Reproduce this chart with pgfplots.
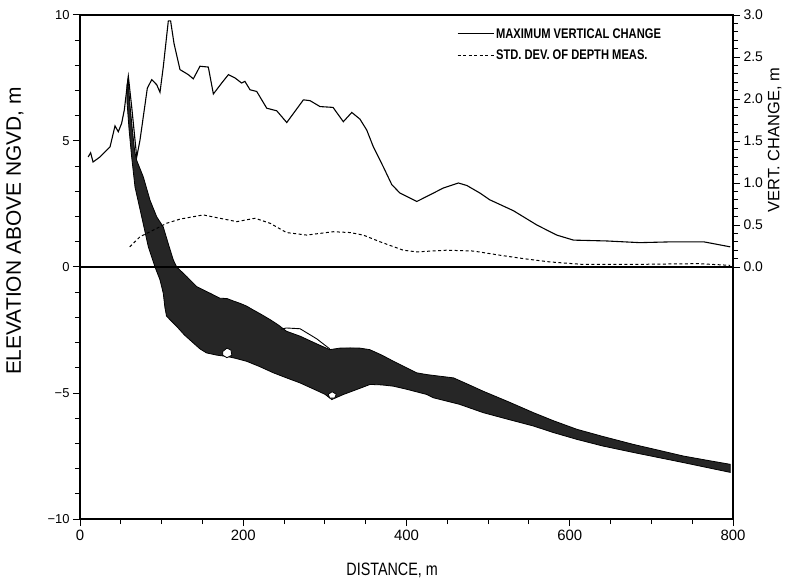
\documentclass[border=0pt]{standalone}
\usepackage{fontspec}
\setmainfont{Liberation Sans}
\newfontfamily\condfont{Liberation Sans}[FakeStretch=0.8]
\usepackage{pgfplots}
\pgfplotsset{compat=1.18}

\begin{document}
\begin{tikzpicture}
\useasboundingbox (-80bp,-66bp) rectangle (720bp,519bp);
\begin{axis}[
  scale only axis, width=653bp, height=504bp,
  xmin=0, xmax=800, ymin=-10, ymax=10,
  xtick={0,200,400,600,800}, minor x tick num=3,
  ytick={-10,-5,0,5,10}, yticklabels={−10,−5,0,5,10}, minor y tick num=4,
  xtick pos=left, ytick pos=left, tick align=outside,
  major tick length=7bp, minor tick length=5bp,
  axis line style={line width=1.2pt},
  every tick/.style={line width=1pt, black},
  every minor tick/.style={line width=0.9pt, black},
  /pgf/number format/assume math mode=true,
  xticklabel style={font=\fontsize{15}{17}\selectfont, yshift=-1bp},
  yticklabel style={font=\fontsize{13}{15}\selectfont},
  xlabel={DISTANCE, m},
  ylabel={ELEVATION ABOVE NGVD, m},
  xlabel style={at={(axis description cs:0.478,-0.101)}, anchor=center, font=\condfont\fontsize{18}{20}\selectfont},
  ylabel style={at={(axis description cs:-0.0995,0.571)}, anchor=center, rotate=0, font=\fontsize{21}{23}\selectfont},
  clip=false,
]
% envelope of surveyed profiles
\addplot[fill=black!85, draw=black, line width=0.8pt] coordinates {
(59,7.5) (61,6.5) (64,5.5) (67,4.6) (69.5,4.23) (77.6,3.57) (85.8,2.65) (94,1.99) (102,1.59) (108,0.94) (114.3,0.28) (118.5,0)
(130.8,-0.38) (143,-0.78) (159.3,-1.04) (171.6,-1.24) (180,-1.25) (188,-1.35) (196,-1.44) (204,-1.55) (212,-1.70) (222,-1.88) (233,-2.09) (243,-2.3) (253,-2.55) (270,-2.75) (290,-3.05) (306,-3.28) (318,-3.22) (331,-3.21) (343,-3.22) (355,-3.28) (370,-3.5) (384,-3.74) (392,-3.87) (412.6,-4.20) (425,-4.27) (440,-4.33) (457.6,-4.40) (475,-4.65) (494,-4.93) (525,-5.35) (555.5,-5.78) (580,-6.1) (608.7,-6.44) (640,-6.72) (678,-7.04) (710,-7.28) (739,-7.50) (770,-7.68) (796.6,-7.83)
(796.6,-8.15) (770,-7.97) (739,-7.76) (710,-7.57) (678,-7.36) (640,-7.1) (608.7,-6.84) (580,-6.57) (555.5,-6.31) (525,-6.05) (494,-5.78) (465,-5.45) (433,-5.19) (425,-5.06) (400,-4.85) (384,-4.73) (370,-4.68) (355.4,-4.66) (340,-4.85) (322.6,-5.06) (308.5,-5.26) (300,-5.05) (290,-4.9) (269.6,-4.60) (253,-4.40) (237,-4.20) (220,-3.95) (204,-3.74) (190,-3.62) (180,-3.55) (168,-3.5) (155,-3.41) (147,-3.25) (139,-3.02) (128,-2.7) (118.5,-2.36) (112,-2.15) (106,-1.95) (104,-1.6) (102,-1.04) (98,-0.51) (91.9,0)
(83.7,0.8) (75.6,1.99) (67.4,3.17) (63.3,4.36) (60,5.5) (57.5,6.6) (57.5,7.2)
} -- cycle;
% outlying profile loops
\addplot[draw=black, line width=0.9pt] coordinates {(246,-2.47) (253,-2.42) (269.6,-2.45) (290,-2.85) (306,-3.25)};
\addplot[draw=black, fill=white, line width=0.8pt] coordinates {(175,-3.35) (180,-3.22) (185,-3.3) (186,-3.5) (180,-3.6) (175,-3.5)} -- cycle;
\addplot[draw=black, fill=white, line width=0.8pt] coordinates {(304,-5.05) (309,-4.95) (314,-5.05) (312,-5.2) (306,-5.2)} -- cycle;
% zero line
\addplot[black, line width=1.2pt] coordinates {(0,0) (800,0)};
\end{axis}
\begin{axis}[
  scale only axis, width=653bp, height=504bp,
  xmin=0, xmax=800, ymin=-3, ymax=3,
  axis x line=none, axis y line*=right,
  ytick={0,0.5,1,1.5,2,2.5,3}, yticklabels={0.0,0.5,1.0,1.5,2.0,2.5,3.0},
  minor ytick={0.1,0.2,0.3,0.4,0.6,0.7,0.8,0.9,1.1,1.2,1.3,1.4,1.6,1.7,1.8,1.9,2.1,2.2,2.3,2.4,2.6,2.7,2.8,2.9},
  tick align=outside,
  major tick length=7bp, minor tick length=5bp,
  axis line style={line width=1.2pt},
  every tick/.style={line width=1pt, black},
  every minor tick/.style={line width=0.9pt, black},
  yticklabel style={font=\fontsize{14}{16}\selectfont},
  ylabel={VERT. CHANGE, m},
  ylabel style={at={(axis description cs:1.064,0.752)}, anchor=center, rotate=0, font=\fontsize{16.5}{18}\selectfont},
  legend style={at={(axis description cs:0.577,0.978)}, anchor=north west, draw=none, fill=none,
    font=\condfont\bfseries\fontsize{14}{16}\selectfont, row sep=6bp, inner sep=0pt,
    nodes={inner sep=2bp}},
  legend cell align=left,
  legend image code/.code={\draw[#1] (0bp,0bp) -- (36bp,0bp);},
  clip=false,
]
\addplot[black, line width=1.1pt] coordinates {
(10,1.31) (13,1.36) (16,1.25) (24.5,1.31) (36.8,1.43) (42.9,1.68) (46.9,1.61) (51,1.71) (54.3,1.87) (59.2,2.27) (63.3,1.91) (67.4,1.51) (69.5,1.31) (73.5,1.51) (82.5,2.13) (87.9,2.23) (94,2.17) (98,2.08) (102,2.38) (108.2,2.93) (111,2.93) (115.2,2.66) (122.5,2.35) (132.7,2.29) (138.8,2.24) (147,2.39) (157.2,2.38) (163.4,2.06) (173.6,2.19) (181.8,2.29) (190,2.25) (198,2.19) (202,2.21) (208.3,2.11) (216.5,2.09) (228.8,1.89) (241,1.86) (253.3,1.72) (273.7,1.99) (281.9,1.98) (294,1.91) (310,1.90) (322.6,1.73) (333,1.84) (343,1.76) (351.3,1.63) (359.4,1.43) (371.7,1.19) (382,0.98) (392,0.88) (412.6,0.78) (429,0.86) (445,0.94) (463.6,1.00) (474,0.97) (490,0.88) (502,0.80) (531,0.67) (559.7,0.50) (584,0.38) (604.6,0.32) (645,0.31) (686,0.29) (727,0.30) (764,0.30) (796.6,0.24)
};
\addlegendentry{MAXIMUM VERTICAL CHANGE}
\addplot[black, line width=1pt, dash pattern=on 3bp off 2.5bp] coordinates {
(61,0.24) (73.5,0.36) (90,0.44) (106,0.52) (122.5,0.57) (151,0.62) (171.6,0.58) (192,0.54) (214.5,0.58) (233,0.52) (253,0.41) (277.8,0.38) (310,0.42) (331,0.41) (347,0.38) (367.6,0.30) (396,0.20) (412.6,0.18) (449,0.20) (482,0.19) (514.7,0.14) (543,0.10) (576,0.06) (617,0.03) (673,0.03) (756,0.04) (796.6,0.02)
};
\addlegendentry{STD. DEV. OF DEPTH MEAS.}
\end{axis}
\end{tikzpicture}
\end{document}
